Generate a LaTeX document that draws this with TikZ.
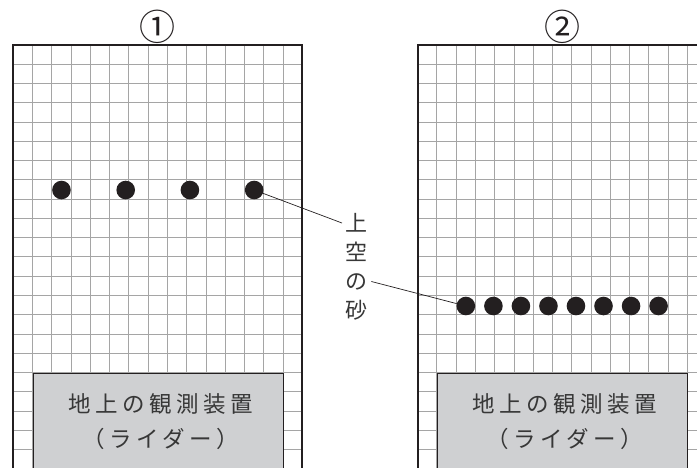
\documentclass[tikz,border=0pt]{standalone}
\usepackage{fontspec}
\newfontfamily\jp{Noto Sans CJK JP}
\definecolor{ink}{RGB}{35,31,32}
\definecolor{gridgray}{RGB}{165,165,165}
\definecolor{boxgray}{RGB}{207,208,210}
\definecolor{textgray}{RGB}{55,55,55}
\begin{document}
\begin{tikzpicture}[x=1pt,y=-1pt,
  gridline/.style={draw=gridgray, line width=1pt},
  frame/.style={draw=ink, line width=2pt},
  grain/.style={circle, fill=ink, inner sep=0pt, minimum size=18.6pt},
  device/.style={rectangle, draw=ink, line width=0.8pt, fill=boxgray,
    anchor=north west, minimum width=250.5pt, minimum height=96.4pt,
    inner sep=0pt, align=center, text=textgray,
    font=\jp\fontsize{22.5}{35}\selectfont\addfontfeature{LetterSpace=20}},
  jpchar/.style={inner sep=3.5pt, text=textgray, font=\jp\fontsize{22}{22}\selectfont},
  numlabel/.style={inner sep=0pt, text=ink, font=\jp\fontsize{36}{36}\selectfont},
  leader/.style={draw=ink, line width=0.7pt}]
\useasboundingbox (0,0) rectangle (697,467);
\begin{scope}
\clip (0,0) rectangle (697,467);
% two gridded panels, bottom and right sides run past the page
\foreach \ox in {13.3,417.7}{
  \begin{scope}[shift={(\ox,45)}]
    \foreach \k in {1,...,14} \draw[gridline] (\k*19.27,0) -- (\k*19.27,440);
    \foreach \j in {1,...,22} \draw[gridline] (0,\j*19.27) -- (289,\j*19.27);
    \draw[frame] (0,440) -- (0,0) -- (289,0) -- (289,440);
  \end{scope}
}
\end{scope}
% panel titles
\node[numlabel] (t1) at (157.8,27) {①};
\node[numlabel] (t2) at (562.2,27) {②};
% ground devices
\node[device] (dev1) at (32.57,372.6) {\hspace{4.5pt}地上の観測装置\\\hspace{4.5pt}（ライダー）};
\node[device] (dev2) at (436.97,372.6) {\hspace{4.5pt}地上の観測装置\\\hspace{4.5pt}（ライダー）};
% sand grains, panel 1
\foreach \i in {1,...,4}
  \node[grain] (a\i) at ({13.3+19.27*(2.5+(\i-1)*10/3)},190) {};
% sand grains, panel 2
\foreach \i in {1,...,8}
  \node[grain] (b\i) at ({417.7+19.27*(2.5+(\i-1)*10/7)},306) {};
% vertical label
\node[jpchar] (c1) at (356.7,223) {上};
\node[jpchar] (c2) at (356.7,252) {空};
\node[jpchar] (c3) at (356.7,281.5) {の};
\node[jpchar] (c4) at (356.7,310) {砂};
% leader lines
\draw[leader] (a4) -- (c1.west);
\draw[leader] (c3.east) -- (b1);
\end{tikzpicture}
\end{document}
